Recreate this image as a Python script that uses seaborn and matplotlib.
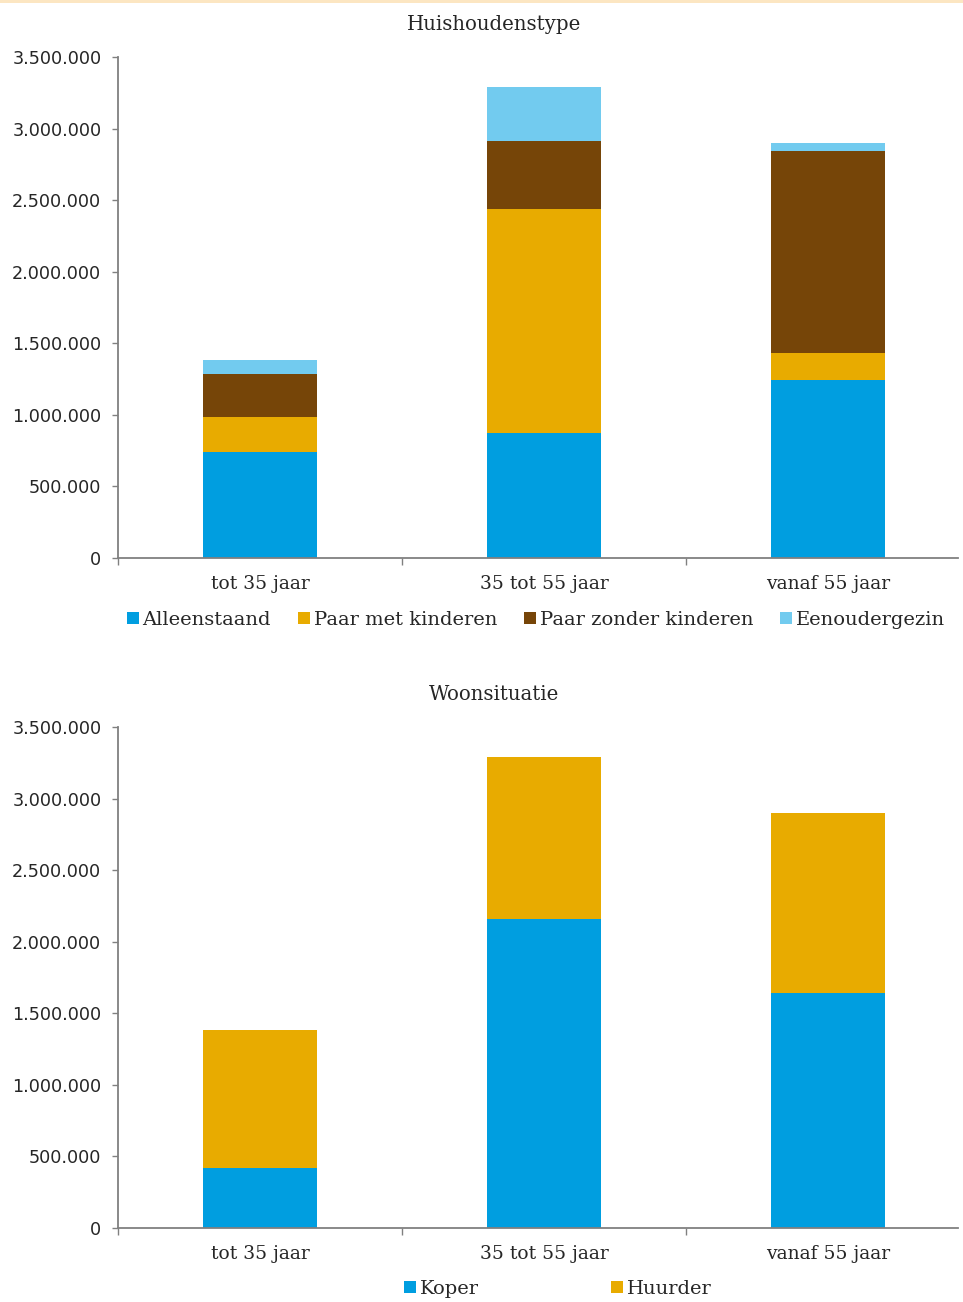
import numpy as np
import pandas as pd
import matplotlib
matplotlib.use("Agg")
import matplotlib.pyplot as plt
import seaborn as sns
from matplotlib.lines import Line2D
from matplotlib.patches import Rectangle
from matplotlib.ticker import FuncFormatter, FixedLocator

# ===================== Data =====================
age_groups = ["tot 35 jaar", "35 tot 55 jaar", "vanaf 55 jaar"]

huis_labels = ["Alleenstaand", "Paar met kinderen", "Paar zonder kinderen", "Eenoudergezin"]
alleenstaand = [740000, 873000, 1243000]
paar_met_kinderen = [245000, 1564000, 189000]
paar_zonder_kinderen = [300000, 475000, 1410000]
eenoudergezin = [98000, 377000, 56000]

woon_labels = ["Koper", "Huurder"]
koper = [419000, 2158000, 1641000]
huurder = [964000, 1131000, 1257000]

huis_colors = ["#009EE0", "#E8AB00", "#764508", "#72CBEF"]
woon_colors = ["#009EE0", "#E8AB00"]

SERIF = "DejaVu Serif"
SANS = "DejaVu Sans"
AXIS_GREY = "#808080"
# ================================================


def thousands(x, pos):
    return f"{int(round(x)):,}".replace(",", ".")


def stacked_bars(ax, series, labels, colors):
    """Draw stacked bars by overdrawing cumulative totals, tallest first."""
    cum = np.cumsum(np.array(series), axis=0)
    for i in range(len(series) - 1, -1, -1):
        df = pd.DataFrame({"groep": age_groups, "waarde": cum[i]})
        sns.barplot(data=df, x="groep", y="waarde", color=colors[i],
                    width=0.4, saturation=1, ax=ax, linewidth=0,
                    label=labels[i])


def style_axes(ax):
    ax.set_ylim(0, 3500000)
    ax.set_xlim(-0.5, 2.457)
    ax.yaxis.set_major_locator(FixedLocator(np.arange(0, 3500001, 500000)))
    ax.yaxis.set_major_formatter(FuncFormatter(thousands))
    ax.set_xlabel("")
    ax.set_ylabel("")
    for s in ["top", "right"]:
        ax.spines[s].set_visible(False)
    for s in ["left", "bottom"]:
        ax.spines[s].set_color(AXIS_GREY)
        ax.spines[s].set_linewidth(1.3)
    ax.tick_params(axis="y", left=True, direction="out", length=4, width=1,
                   color=AXIS_GREY, pad=8, labelsize=12.7)
    for lab in ax.get_yticklabels():
        lab.set_family(SANS)
    ax.set_xticks([0, 1, 2])
    ax.set_xticklabels(age_groups, family=SERIF, fontsize=13.5)
    ax.set_xticks([-0.5, 0.5, 1.5], minor=True)
    ax.tick_params(axis="x", which="major", bottom=True, length=0, pad=12)
    ax.tick_params(axis="x", which="minor", bottom=True, direction="out",
                   length=5, width=1, color=AXIS_GREY)
    ax.grid(False)
    if ax.get_legend() is not None:
        ax.get_legend().remove()


def add_legend(fig, labels, colors, y, x, colspacing):
    handles = [Line2D([], [], marker="s", linestyle="", markersize=8,
                      markerfacecolor=c, markeredgewidth=0) for c in colors]
    fig.legend(handles, labels, loc="center", bbox_to_anchor=(x, y),
               ncol=len(labels), frameon=False, handletextpad=0.0,
               columnspacing=colspacing, handlelength=1.0,
               prop={"family": SERIF, "size": 14})


def main():
    sns.set_style("white")
    plt.rcParams["font.family"] = [SERIF, "DejaVu Sans"]

    W, H = 963, 1302
    fig = plt.figure(figsize=(W / 100, H / 100), dpi=100)

    ax1 = fig.add_axes([118 / W, 1 - 558 / H, 840 / W, 501 / H])
    ax2 = fig.add_axes([118 / W, 1 - 1228 / H, 840 / W, 501 / H])

    stacked_bars(ax1, [alleenstaand, paar_met_kinderen, paar_zonder_kinderen, eenoudergezin],
                 huis_labels, huis_colors)
    stacked_bars(ax2, [koper, huurder], woon_labels, woon_colors)

    style_axes(ax1)
    style_axes(ax2)

    fig.text(494 / W, 1 - 24 / H, "Huishoudenstype", ha="center", va="center",
             family=SERIF, fontsize=14.2)
    fig.text(494 / W, 1 - 694 / H, "Woonsituatie", ha="center", va="center",
             family=SERIF, fontsize=14.2)

    add_legend(fig, huis_labels, huis_colors, 1 - 620 / H, 534 / W, 1.2)
    add_legend(fig, woon_labels, woon_colors, 1 - 1289 / H, 556 / W, 6.6)

    # thin beige band at the top edge
    fig.add_artist(Rectangle((0, 1 - 3 / H), 1, 3 / H, transform=fig.transFigure,
                             color="#FCE6C2", linewidth=0))

    fig.savefig("out.png", dpi=100)


if __name__ == "__main__":
    main()
